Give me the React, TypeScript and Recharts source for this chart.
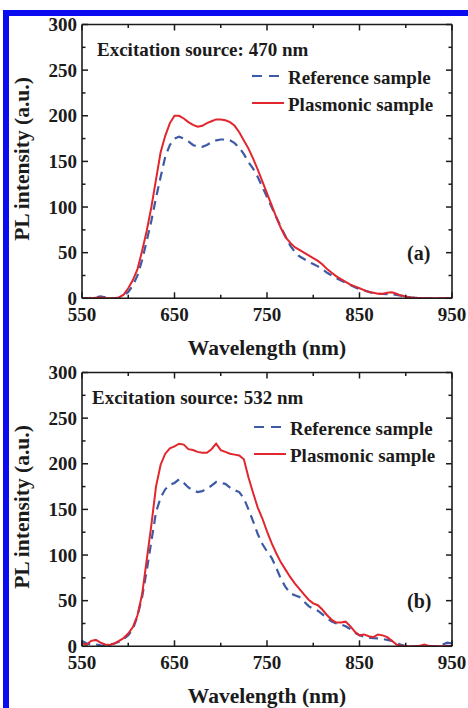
import React from 'react';
import { LineChart, Line, XAxis, YAxis, Legend } from 'recharts';

// ---------- data ----------
const WAVELENGTH = [
  550, 555, 560, 565, 570, 575, 580, 585, 590, 595,
  600, 605, 610, 615, 620, 625, 630, 635, 640, 645,
  650, 655, 660, 665, 670, 675, 680, 685, 690, 695,
  700, 705, 710, 715, 720, 725, 730, 735, 740, 745,
  750, 755, 760, 765, 770, 775, 780, 785, 790, 795,
  800, 805, 810, 815, 820, 825, 830, 835, 840, 845,
  850, 855, 860, 865, 870, 875, 880, 885, 890, 895,
  900, 905, 910, 915, 920, 925, 930, 935, 940, 945,
  950,
];

// Panel (a): excitation 470 nm
const REF_470 = [
  0, 0, 0.5, 1, 2, 1, 0, 0, 0.5, 3,
  7, 14, 25, 42, 63, 85, 110, 133, 155, 168,
  175, 177, 175, 172, 168, 166, 166, 168, 171, 173,
  174, 174, 173, 170, 165, 158, 149, 142, 133, 122,
  111, 100, 89, 78, 68, 58, 51, 46, 43, 40,
  37.5, 35, 32, 28, 25, 22, 19.5, 17, 14.5, 12,
  10, 8.5, 7, 5.5, 5, 4.7, 4.5, 4.4, 3.8, 3,
  2, 1, 0.5, 0.3, 0, 0, 0, 0, 0, 0,
  0,
];
const PLA_470 = [
  0, 0, 0, 0.5, 1, 0.3, 0, 0, 1, 4,
  11, 20, 32, 52, 74, 100, 130, 160, 178, 192,
  200, 200, 197, 193, 190, 188, 189, 192, 194, 196,
  196, 195, 193, 189, 182, 173, 164, 153, 141, 128,
  115, 102, 89, 77, 67, 61, 56, 53, 50, 47,
  44, 41, 37, 32, 28, 24, 21, 18, 15, 13,
  11, 9, 7, 6, 5, 5, 6, 6.5, 5, 3,
  2, 1, 0.5, 0.3, 0, 0, 0, 0, 0, 0,
  0,
];

// Panel (b): excitation 532 nm
const REF_532 = [
  6, 3, 2, 2, 1, 0.5, 2, 3, 5, 8,
  12, 19, 33, 54, 83, 115, 147, 163, 172, 177,
  179, 183, 179, 174, 171, 169, 170, 172.5, 176, 180,
  179, 178, 174, 171, 169, 162, 150, 137, 123, 112,
  104, 97, 86, 74, 65, 58, 56, 54, 49, 44,
  41, 39, 35, 31, 27, 25, 24, 22, 19, 15,
  12, 10.5, 9.5, 9, 8.7, 8, 7, 6, 4, 1.5,
  0.3, 0, 0, 0, 0, 0, 0, 0.5, 2, 4,
  3,
];
const PLA_532 = [
  3, 2, 6, 7, 4, 2, 1.5, 3, 6, 9,
  14, 21, 34, 57, 95, 133, 175, 199, 211, 217,
  219, 222, 221, 216, 215, 213, 212, 212, 216, 222,
  215, 213, 211, 210, 209, 205, 185, 168, 152, 140,
  126, 113, 102, 92, 84, 76, 69, 63, 57, 51,
  47, 45, 40, 34, 29, 26, 26, 27, 22, 16,
  12, 13, 11, 10, 13, 12, 10, 6, 2, 0.5,
  0, 0, 0, 0.5, 2, 0.5, 0, 0, 0, 0.5,
  0,
];

const X_TICKS = [550, 600, 650, 700, 750, 800, 850, 900, 950];
const X_LABELED = [550, 650, 750, 850, 950];
const Y_TICKS = [0, 25, 50, 75, 100, 125, 150, 175, 200, 225, 250, 275, 300];
const Y_LABELED = [0, 50, 100, 150, 200, 250, 300];

const SERIES_NAMES = ['Reference sample', 'Plasmonic sample'];
const X_TITLE = 'Wavelength (nm)';
const Y_TITLE = 'PL intensity (a.u.)';

// ---------- styles ----------
const INK = '#1b1b1b';
const RED = '#e1262d';
const BLUE = '#3d5aa6';
const FONT = "'Liberation Serif', 'Times New Roman', Times, serif";
const tickStyle: React.CSSProperties = { fontFamily: FONT, fontWeight: 700, fontSize: 19, fill: INK };
const titleStyle: React.CSSProperties = { fontFamily: FONT, fontWeight: 700, fontSize: 21.5, fill: INK };
const annoStyle: React.CSSProperties = { fontFamily: FONT, fontWeight: 700, fontSize: 19, fill: INK };

const MAJOR = 6;
const MINOR = 3.5;

const BottomTick = (p: any) => {
  const v = p.payload?.value;
  const major = X_LABELED.includes(v);
  return (
    <g>
      <line x1={p.x} x2={p.x} y1={p.y} y2={p.y - (major ? MAJOR : MINOR)} stroke={INK} strokeWidth={1.5} />
      {major && (
        <text x={p.x} y={p.y + 22.5} textAnchor="middle" style={tickStyle}>
          {v}
        </text>
      )}
    </g>
  );
};

const TopTick = (p: any) => {
  const v = p.payload?.value;
  const major = X_LABELED.includes(v);
  return <line x1={p.x} x2={p.x} y1={p.y} y2={p.y + (major ? MAJOR : MINOR)} stroke={INK} strokeWidth={1.5} />;
};

const LeftTick = (p: any) => {
  const v = p.payload?.value;
  const major = Y_LABELED.includes(v);
  return (
    <g>
      <line x1={p.x} x2={p.x + (major ? MAJOR : MINOR)} y1={p.y} y2={p.y} stroke={INK} strokeWidth={1.5} />
      {major && (
        <text x={p.x - 5} y={p.y + 6.5} textAnchor="end" style={tickStyle}>
          {v}
        </text>
      )}
    </g>
  );
};

const RightTick = (p: any) => {
  const v = p.payload?.value;
  const major = Y_LABELED.includes(v);
  return <line x1={p.x} x2={p.x - (major ? MAJOR : MINOR)} y1={p.y} y2={p.y} stroke={INK} strokeWidth={1.5} />;
};

const XTitle = (p: any) => {
  const vb = p.viewBox;
  if (!vb) return null;
  return (
    <text x={vb.x + vb.width / 2} y={vb.y + 56.5} textAnchor="middle" style={titleStyle}>
      {X_TITLE}
    </text>
  );
};

const YTitle = (p: any) => {
  const vb = p.viewBox;
  if (!vb) return null;
  const cy = vb.y + 134.5;
  return (
    <text transform={`translate(29, ${cy}) rotate(-90)`} textAnchor="middle" style={titleStyle}>
      {Y_TITLE}
    </text>
  );
};

const LegendBox = () => (
  <svg width={200} height={60} style={{ display: 'block', overflow: 'visible' }}>
    <line x1={2} x2={34} y1={16} y2={16} stroke={BLUE} strokeWidth={2.2} strokeDasharray="10 7" />
    <text x={38} y={24} style={annoStyle}>{SERIES_NAMES[0]}</text>
    <line x1={2} x2={34} y1={43} y2={43} stroke={RED} strokeWidth={2} />
    <text x={38} y={51} style={annoStyle}>{SERIES_NAMES[1]}</text>
  </svg>
);

type PanelProps = {
  top: number;
  refValues: number[];
  plaValues: number[];
  excitation: string;
  tag: string;
  excX: number;
  legendTop: number;
  legendLeft: number;
};

function Panel({ top, refValues, plaValues, excitation, tag, excX, legendTop, legendLeft }: PanelProps) {
  const rows = WAVELENGTH.map((wl, i) => ({ wl, ref: refValues[i], pla: plaValues[i] }));
  return (
    <div style={{ position: 'absolute', left: 0, top, width: 468, height: 360 }}>
      <LineChart width={468} height={360} data={rows} margin={{ top: 23.5, right: 15, bottom: 0, left: 0 }}>
        <XAxis
          xAxisId="b"
          dataKey="wl"
          type="number"
          domain={[550, 950]}
          allowDataOverflow
          ticks={X_TICKS}
          interval={0}
          height={61.7}
          tickSize={0}
          tickMargin={0}
          tickLine={false}
          axisLine={{ stroke: INK, strokeWidth: 1.6 }}
          tick={BottomTick}
          label={{ content: XTitle }}
        />
        <XAxis
          xAxisId="t"
          orientation="top"
          dataKey="wl"
          type="number"
          domain={[550, 950]}
          allowDataOverflow
          ticks={X_TICKS}
          interval={0}
          height={1}
          tickSize={0}
          tickMargin={0}
          tickLine={false}
          axisLine={{ stroke: INK, strokeWidth: 1.6 }}
          tick={TopTick}
        />
        <YAxis
          yAxisId="l"
          type="number"
          domain={[0, 300]}
          allowDataOverflow
          ticks={Y_TICKS}
          interval={0}
          width={82}
          tickSize={0}
          tickMargin={0}
          tickLine={false}
          axisLine={{ stroke: INK, strokeWidth: 1.6 }}
          tick={LeftTick}
          label={{ content: YTitle }}
        />
        <YAxis
          yAxisId="r"
          orientation="right"
          type="number"
          domain={[0, 300]}
          allowDataOverflow
          ticks={Y_TICKS}
          interval={0}
          width={1}
          tickSize={0}
          tickMargin={0}
          tickLine={false}
          axisLine={{ stroke: INK, strokeWidth: 1.6 }}
          tick={RightTick}
        />
        <Line
          xAxisId="b"
          yAxisId="l"
          type="linear"
          dataKey="ref"
          name={SERIES_NAMES[0]}
          stroke={BLUE}
          strokeWidth={2.2}
          strokeDasharray="9 6"
          dot={false}
          activeDot={false}
          isAnimationActive={false}
        />
        <Line
          xAxisId="b"
          yAxisId="l"
          type="linear"
          dataKey="pla"
          name={SERIES_NAMES[1]}
          stroke={RED}
          strokeWidth={2}
          dot={false}
          activeDot={false}
          isAnimationActive={false}
        />
        <Legend
          layout="vertical"
          align="center"
          verticalAlign="middle"
          content={LegendBox}
          wrapperStyle={{ position: 'absolute', left: legendLeft, top: legendTop, width: 200, height: 60 }}
        />
      </LineChart>
      <svg
        width={468}
        height={360}
        style={{ position: 'absolute', left: 0, top: 0, pointerEvents: 'none', overflow: 'visible' }}
      >
        <text x={excX} y={56} style={annoStyle}>{excitation}</text>
        <text x={407} y={259.5} style={{ ...annoStyle, fontSize: 20 }}>{tag}</text>
      </svg>
    </div>
  );
}

export default function App() {
  return (
    <div style={{ position: 'absolute', left: 0, top: 0, width: 468, height: 708, background: '#ffffff', overflow: 'hidden' }}>
      <div style={{ position: 'absolute', left: 3, top: 10, width: 465, height: 6, background: '#0b0bf2' }} />
      <div style={{ position: 'absolute', left: 3, top: 10, width: 6, height: 698, background: '#0b0bf2' }} />
      <Panel
        top={0}
        refValues={REF_470}
        plaValues={PLA_470}
        excitation="Excitation source: 470 nm"
        tag="(a)"
        excX={97}
        legendTop={60}
        legendLeft={250}
      />
      <Panel
        top={347.5}
        refValues={REF_532}
        plaValues={PLA_532}
        excitation="Excitation source: 532 nm"
        tag="(b)"
        excX={92}
        legendTop={63}
        legendLeft={251.5}
      />
    </div>
  );
}
